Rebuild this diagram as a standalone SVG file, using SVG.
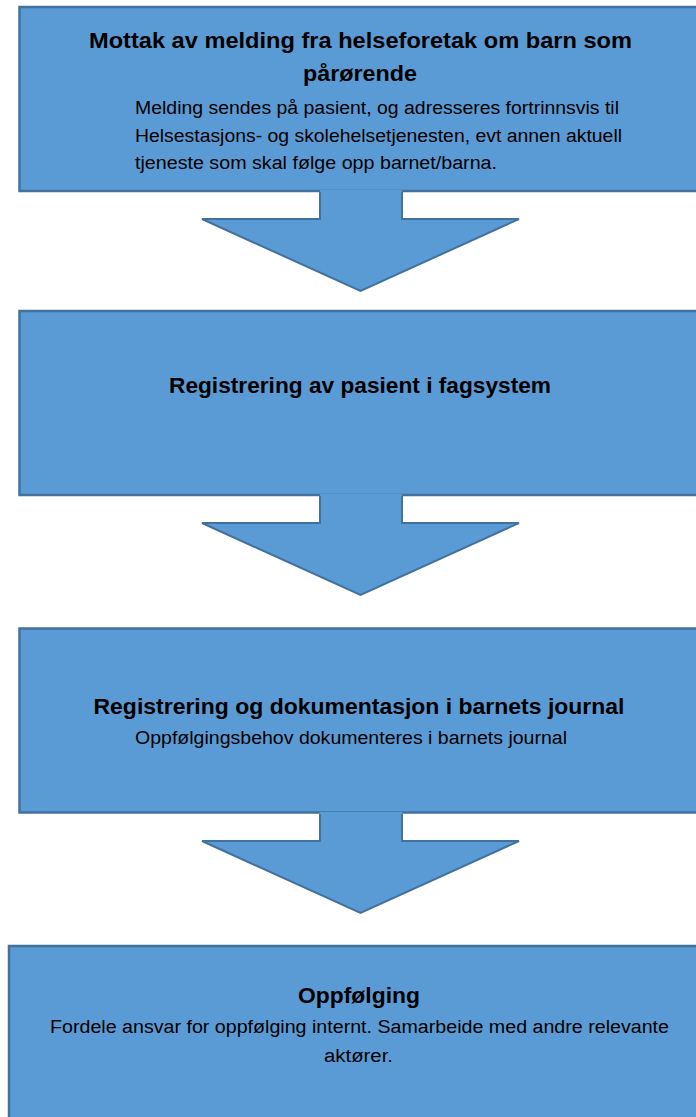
<svg xmlns="http://www.w3.org/2000/svg" width="696" height="1117" viewBox="0 0 696 1117">
<style>
.box{fill:#5B9BD5;stroke:#41719C;stroke-width:2.5}
.af{fill:#5B9BD5;stroke:none}
.as{fill:none;stroke:#41719C;stroke-width:2;stroke-linejoin:miter}
.t{font-family:"Liberation Sans",Arial,sans-serif;font-weight:bold;font-size:22px;fill:#000}
.b{font-family:"Liberation Sans",Arial,sans-serif;font-size:18px;fill:#000}
</style>
<rect x="0" y="0" width="696" height="1117" fill="#fff"/>
<g id="node1">
<rect class="box" x="19.5" y="7" width="690" height="184"/>
<text class="t" x="89" y="48" textLength="543" lengthAdjust="spacingAndGlyphs">Mottak av melding fra helseforetak om barn som</text>
<text class="t" x="303" y="81" textLength="114" lengthAdjust="spacingAndGlyphs">pårørende</text>
<text class="b" x="135" y="114" textLength="484" lengthAdjust="spacingAndGlyphs">Melding sendes på pasient, og adresseres fortrinnsvis til</text>
<text class="b" x="135" y="142" textLength="487" lengthAdjust="spacingAndGlyphs">Helsestasjons- og skolehelsetjenesten, evt annen aktuell</text>
<text class="b" x="135" y="169" textLength="362" lengthAdjust="spacingAndGlyphs">tjeneste som skal følge opp barnet/barna.</text>
</g>
<g id="node2">
<rect class="box" x="19.5" y="311" width="690" height="184"/>
<text class="t" x="169" y="393" textLength="382" lengthAdjust="spacingAndGlyphs">Registrering av pasient i fagsystem</text>
</g>
<g id="node3">
<rect class="box" x="19.5" y="628.5" width="690" height="184"/>
<text class="t" x="93.5" y="714" textLength="531" lengthAdjust="spacingAndGlyphs">Registrering og dokumentasjon i barnets journal</text>
<text class="b" x="135" y="744" textLength="432" lengthAdjust="spacingAndGlyphs">Oppfølgingsbehov dokumenteres i barnets journal</text>
</g>
<g id="node4">
<rect class="box" x="9" y="946" width="700" height="190"/>
<text class="t" x="298" y="1003" textLength="122" lengthAdjust="spacingAndGlyphs">Oppfølging</text>
<text class="b" x="50" y="1033" textLength="619" lengthAdjust="spacingAndGlyphs">Fordele ansvar for oppfølging internt. Samarbeide med andre relevante</text>
<text class="b" x="324" y="1062" textLength="69" lengthAdjust="spacingAndGlyphs">aktører.</text>
</g>
<g id="connectors">
<g id="arrow1">
<polygon class="af" points="320,190 402,190 402,219 519,219 360.5,291 202,219 320,219"/>
<polyline class="as" points="320,192 320,219 202,219 360.5,291 519,219 402,219 402,192"/>
</g>
<g id="arrow2">
<polygon class="af" points="320,494 402,494 402,523 519,523 360.5,595 202,523 320,523"/>
<polyline class="as" points="320,496 320,523 202,523 360.5,595 519,523 402,523 402,496"/>
</g>
<g id="arrow3">
<polygon class="af" points="320,812 402,812 402,841 519,841 360.5,913 202,841 320,841"/>
<polyline class="as" points="320,814 320,841 202,841 360.5,913 519,841 402,841 402,814"/>
</g>
</g>
</svg>
